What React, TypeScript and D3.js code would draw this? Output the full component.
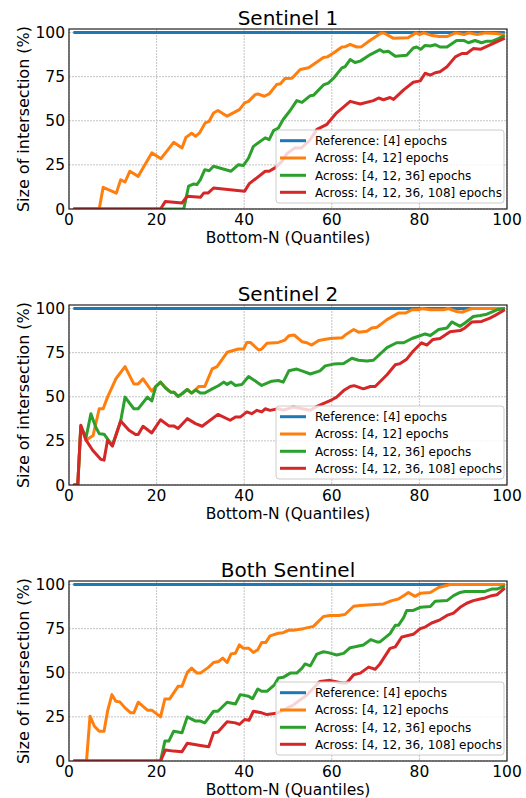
import React from "react";
import * as d3 from "d3";

type P = [number, number];

const titles = ["Sentinel 1", "Sentinel 2", "Both Sentinel"];
const legendLabels = [
  "Reference: [4] epochs",
  "Across: [4, 12] epochs",
  "Across: [4, 12, 36] epochs",
  "Across: [4, 12, 36, 108] epochs",
];
const colors = ["#1f77b4", "#ff7f0e", "#2ca02c", "#d62728"];
const xTicks = [0, 20, 40, 60, 80, 100];
const yTicks = [0, 25, 50, 75, 100];

const reference: P[] = [[1, 100], [99.5, 100]];

const s1Orange: P[] = [[1,0],[6.9,0],[7.8,12.3],[10.8,9],[11.8,16.6],[12.8,15.3],[13.9,21.4],[15.8,18.5],[18.9,31.8],[21,28.5],[23.9,37.8],[25.8,34.6],[26.7,40.6],[28,42.9],[28.9,41.2],[29.8,43.1],[31.1,48.8],[32,49.7],[33,54.4],[34,55.8],[36.1,52.6],[38.9,56.3],[40.1,60.1],[41,61],[42.5,64.8],[43.1,65.2],[44.6,63.9],[45.7,65.2],[47.4,70.5],[48.3,71],[49.3,73.9],[50.9,74.1],[52.8,79.1],[54.7,80],[58.1,85.8],[59,86.2],[60.4,88.4],[62.3,91.8],[63,91.9],[64.2,93.3],[65.7,91.8],[66.8,92],[68.7,95.5],[71.3,99.8],[72,99.6],[74,96.8],[77.4,97],[79.2,99.8],[80,98.9],[81,99.8],[82.6,98.5],[84.5,97.8],[86.4,97.8],[88.3,99.8],[90.2,98.9],[91.3,99.8],[93.2,98.9],[95.1,99.8],[97.4,99.5],[99.5,98.7]];
const s1Green: P[] = [[1,0],[26.2,0],[27.3,12.9],[28.5,14.2],[29.2,13.8],[30,16.6],[31,22.3],[32,21.7],[33,24.2],[37,21.4],[38.7,25.1],[39.8,24.6],[41,28.9],[42.1,35.5],[44.8,40.3],[45.7,39.3],[46.7,44.4],[47.8,45.9],[48.9,50.7],[50.5,55.8],[52,61.4],[53.2,60.4],[55.1,64.2],[55.8,64.4],[58.1,70.3],[59.2,71.3],[60.4,74.1],[62.3,80],[63,80.6],[64.2,84.7],[65.3,83],[66.5,83.8],[68.8,87.5],[71,90.3],[71.8,89],[72.9,89.4],[74.5,86.6],[77.1,87.1],[78.6,91.2],[79.4,91.8],[80.3,90.5],[81.3,92.7],[82.5,92.4],[83.6,93.1],[84.7,91.8],[86.3,91.8],[88.5,95.5],[90.1,95.5],[91.2,94.2],[92.7,95.5],[94.2,94.2],[95.4,95.1],[96.5,95],[98,96.5],[99.5,98.3]];
const s1Red: P[] = [[1,0],[20.9,0],[22,4.3],[25.8,3.4],[27,7.2],[30,6.6],[30.8,9.1],[31.8,9.1],[33,11.9],[40.1,10],[41.1,14.2],[44.8,21.4],[45.7,21.4],[47.2,23.6],[48.6,27],[49.8,31.5],[51.5,34.5],[53,34.5],[55,39],[56.6,45.1],[58.9,48],[61.1,54.5],[64.2,61],[66.5,59.5],[69.5,61.4],[70.7,62.9],[71.8,61.9],[73.3,63.2],[74.1,62.1],[76.4,67.5],[78.6,71.8],[80.2,72.6],[81.3,76.9],[82.5,75.9],[83.6,77.2],[84.7,77.8],[86.3,80.6],[88.2,86.2],[89.7,88.1],[90.8,88.1],[92.3,90.9],[93.9,90.5],[95.4,92.2],[99.5,96.8]];

const s2Orange: P[] = [[1,0],[2,0],[2.7,33.3],[3.9,25.4],[5.5,28],[6.9,43.2],[7.8,43.2],[8.8,49.8],[10.7,60.2],[12.8,67.1],[14.8,57.3],[15.8,57.3],[16.9,60.2],[18.9,53.2],[19.8,55.8],[20.9,58.3],[22,55.1],[23.2,52.6],[24,52.6],[24.9,50.2],[25.8,51.7],[27,54.1],[28,52.1],[28.9,53.9],[29.6,55.8],[31,55.8],[32.7,65.8],[33.8,67.1],[36.1,75.2],[38.7,77.1],[39.9,77.1],[40.6,80.8],[41.4,80.8],[43.3,76.5],[44,77],[45.2,80.3],[47.8,80.8],[49.3,82.1],[50.2,84.6],[51.4,85],[53.2,81.2],[54.3,80.6],[55.4,79.3],[57,81.9],[59.6,83],[62.3,83.4],[63.4,85.6],[65,88.1],[66.1,86.6],[68,87.1],[69.1,89],[70.3,89.4],[72.6,93.7],[75.2,97.4],[76.8,97.4],[78.3,99.3],[79.8,99.3],[80.5,100],[82.5,99.3],[85.5,99.3],[86.6,100],[88.5,98.3],[89.7,97.9],[92,100],[99.5,100]];
const s2Green: P[] = [[1,0],[2,0],[2.7,33],[3.9,27],[5,40.4],[6.1,32.9],[6.9,29.1],[8,28.8],[9,25.4],[9.9,22.5],[11.8,36.3],[12.8,49.8],[14.8,43.2],[15.8,43.2],[17.9,49.8],[18.9,47.6],[19.8,55.8],[20.9,58.3],[22,55.1],[23.2,52.6],[24,52.6],[24.9,50.2],[25.8,51.7],[27,54.1],[28,52.1],[28.9,53.9],[30,52.1],[31,52.1],[32.7,54.5],[34.2,56.4],[35.3,58.3],[36.1,57],[37,58.3],[38,56.4],[39.5,57],[41,61.5],[44,56.4],[46.3,58.8],[47.8,59.2],[48.9,58.3],[50.2,64.7],[52,65.7],[53.5,64.4],[55.1,62.9],[57.3,64.7],[58.5,67.5],[60.4,68.5],[62.7,68.8],[64.6,71.8],[66.1,70.7],[68,70.3],[69.5,70.7],[72.6,77.8],[74.8,80.6],[76.4,80.6],[78.3,83],[79.8,84.3],[81.3,85.6],[82.5,84.7],[84.4,88.1],[86.3,89],[87.4,92.4],[89.3,89.9],[90.4,91.8],[92.3,95.5],[93.9,96.1],[95.4,96.8],[97.7,99.3],[99.5,100]];
const s2Red: P[] = [[1,0],[2,0],[2.7,33.8],[3.9,25.4],[5.4,19.7],[7.3,14.5],[8,14.1],[8.8,25.4],[9.9,22],[11.8,36.3],[13.7,31],[15.2,28.6],[15.8,28.6],[16.9,33.3],[18.9,29.5],[20.9,37],[22.8,33.5],[23.9,33.5],[24.9,32],[27,37.6],[28.9,34.8],[30.4,33.3],[34,40],[36.8,36.7],[38,38.5],[39.1,38.5],[40.6,41.4],[41.7,40.4],[42.9,42.3],[44,41.4],[44.8,43.2],[45.9,42.3],[47.8,43.2],[49,42.4],[51.2,44.2],[55.1,42.4],[56.6,44.6],[60,48.3],[61.1,49.8],[62.7,53.5],[64.2,55.8],[65.1,56.3],[67.2,54.5],[68.8,55.8],[69.9,55.8],[72.6,62.5],[74.5,68.1],[75.6,68.8],[77.1,71.3],[78.6,75.9],[80.5,80.6],[81.7,79.3],[83.1,82.5],[84.7,83],[87,86.8],[89.3,87.5],[90.4,89],[92,92.4],[94.2,92.7],[96.1,94.6],[97.3,96.1],[99.5,99.3]];

const s3Orange: P[] = [[1,0],[4,0],[4.8,25.4],[5.8,19.7],[6.9,16.9],[8,16.9],[8.8,28.2],[9.8,37.6],[10.7,33.8],[11.6,33.5],[12.8,30.1],[14.1,27.3],[14.8,27.3],[15.8,33.3],[17.9,28.8],[18.9,28.8],[20.9,25],[21.9,35.2],[23,35.2],[24.9,42.3],[25.8,42.3],[27,50.2],[28,52.6],[29.2,49.8],[30,49.8],[31.9,53.2],[33,55.8],[34.2,56.4],[35.1,58.3],[36.1,55.8],[37,60.7],[38,61.1],[38.9,65.8],[39.8,63.9],[41,63.9],[42.1,61.5],[43.1,63],[44,67.1],[44.9,67.1],[45.9,70.9],[47.8,72.4],[48.9,72.7],[50.2,74.2],[51.2,74.1],[53.5,75],[55.8,76.3],[58.1,81.9],[59.6,82.5],[61.5,82.5],[63,83],[65,87.7],[66.5,88.1],[71.8,89],[73.7,90.9],[75.2,91.8],[76.4,93.7],[77.5,95.5],[79,93.3],[80.2,95],[82.5,95.5],[84.4,98.3],[87,100],[99.5,100]];
const s3Green: P[] = [[1,0],[20.9,0],[21.9,11.3],[22.8,11.3],[23.9,16.9],[25.8,16],[27,25],[28.9,22.6],[30,22.6],[31,21.6],[33,28.2],[34,28.2],[36.1,33.3],[38,32.3],[39.1,37.6],[41,36.7],[41.9,35.3],[43.1,40.8],[44,39.5],[45.2,39.5],[46.9,43.2],[47.8,47],[48.9,47.4],[50.5,49.8],[52,49.8],[53.2,52.6],[53.9,55],[55.1,53.9],[56.6,60.6],[58.1,61.9],[59.2,61.4],[61.1,60.1],[62.7,61],[64.2,64.2],[65.3,64.7],[67.2,65.7],[68.9,68.8],[70.3,67.5],[71,67.5],[73.3,72.2],[74.5,76.9],[75.2,76.9],[76.4,81.2],[77.1,85.3],[78.6,85.3],[80.2,87.1],[82.5,87.5],[83.6,90.5],[86.3,90.9],[87.8,93.7],[89.3,95.5],[90.4,96.1],[95,96.1],[96.5,97.4],[97.7,97.4],[99.5,99.3]];
const s3Red: P[] = [[1,0],[20.9,0],[22,6.2],[23.9,5.6],[25.8,5.3],[27,10],[30,8.8],[31.9,8.1],[33,16],[34,16.4],[36.1,22.2],[38,21.6],[38.9,20.7],[40.1,23.5],[41.1,23.1],[42.1,28.2],[44,27.3],[45.2,26.3],[47.4,27],[51.2,31.7],[54.3,37.4],[57.3,45.1],[59.6,45.7],[62.3,44.2],[63.4,44.2],[65,48.9],[66.5,49.8],[68.4,53.2],[69.9,52],[71,55],[73.3,63.8],[74.5,64.7],[76,70.3],[78.6,71.8],[80.2,75],[81.3,75.9],[82.8,78.2],[84.7,80],[86.3,82.5],[87.8,83.8],[89.3,87.1],[90.8,89.4],[92.3,90.9],[93.9,91.8],[95,92.4],[96.5,93.7],[97.7,94.2],[99.5,98]];

const panelSeries: P[][][] = [
  [reference, s1Orange, s1Green, s1Red],
  [reference, s2Orange, s2Green, s2Red],
  [reference, s3Orange, s3Green, s3Red],
];

const W = 526;
const H = 798;
const left = 69;
const right = 507;
const panelTops = [29, 305, 581];
const ph = 180;
const font = "'DejaVu Sans', sans-serif";

function Panel({ idx }: { idx: number }) {
  const top = panelTops[idx];
  const bottom = top + ph;
  const x = d3.scaleLinear().domain([0, 100]).range([left, right]);
  const y = d3.scaleLinear().domain([0, 102]).range([bottom, top]);
  const line = d3.line<P>().x((d) => x(d[0])).y((d) => y(d[1]));
  const series = panelSeries[idx];
  const lgTop = bottom - 79;
  const lgLeft = 276;
  const lgW = 228;
  const lgH = 73;
  const rows = [10.7, 28, 45.3, 62.3];
  return (
    <g>
      <text x={(left + right) / 2} y={top - 4.5} textAnchor="middle" fontSize={20} fontFamily={font} fill="#000">
        {titles[idx]}
      </text>
      {xTicks.map((t) => (
        <line key={"gx" + t} x1={x(t)} x2={x(t)} y1={top} y2={bottom} stroke="#bdbdbd" strokeWidth={0.9} strokeDasharray="2,1" />
      ))}
      {yTicks.map((t) => (
        <line key={"gy" + t} x1={left} x2={right} y1={y(t)} y2={y(t)} stroke="#bdbdbd" strokeWidth={0.9} strokeDasharray="2,1" />
      ))}
      <clipPath id={"clip" + idx}>
        <rect x={left} y={top - 2} width={right - left} height={ph + 2} />
      </clipPath>
      <g clipPath={`url(#clip${idx})`}>
        {series.map((s, i) => (
          <path key={i} d={line(s) || ""} fill="none" stroke={colors[i]} strokeWidth={3} strokeLinejoin="round" />
        ))}
      </g>
      <rect x={left} y={top} width={right - left} height={ph} fill="none" stroke="#222" strokeWidth={1.2} />
      {xTicks.map((t) => (
        <text key={"xt" + t} x={x(t)} y={bottom + 15.8} textAnchor="middle" fontSize={15.5} fontFamily={font} fill="#000">
          {t}
        </text>
      ))}
      {yTicks.map((t) => (
        <text key={"yt" + t} x={left - 4} y={y(t) + 5.6} textAnchor="end" fontSize={15.5} fontFamily={font} fill="#000">
          {t}
        </text>
      ))}
      <text x={(left + right) / 2} y={bottom + 33.5} textAnchor="middle" fontSize={15.5} fontFamily={font} fill="#000">
        Bottom-N (Quantiles)
      </text>
      <text
        transform={`translate(28.5,${(top + bottom) / 2}) rotate(-90)`}
        textAnchor="middle"
        fontSize={16}
        fontFamily={font}
        fill="#000"
      >
        Size of intersection (%)
      </text>
      <rect x={lgLeft} y={lgTop} width={lgW} height={lgH} rx={3} ry={3} fill="#fff" fillOpacity={0.8} stroke="#cccccc" strokeWidth={1} />
      {legendLabels.map((lab, i) => (
        <g key={lab}>
          <line x1={lgLeft + 4} x2={lgLeft + 30} y1={lgTop + rows[i]} y2={lgTop + rows[i]} stroke={colors[i]} strokeWidth={3} />
          <text x={lgLeft + 39} y={lgTop + rows[i] + 4.3} fontSize={12} fontFamily={font} fill="#000">
            {lab}
          </text>
        </g>
      ))}
    </g>
  );
}

export default function App() {
  return (
    <div style={{ position: "absolute", left: 0, top: 0 }}>
      <svg width={W} height={H} viewBox={`0 0 ${W} ${H}`} style={{ display: "block", background: "#fff" }}>
        <rect x={0} y={0} width={W} height={H} fill="#fff" />
        {[0, 1, 2].map((i) => (
          <Panel key={i} idx={i} />
        ))}
      </svg>
    </div>
  );
}
